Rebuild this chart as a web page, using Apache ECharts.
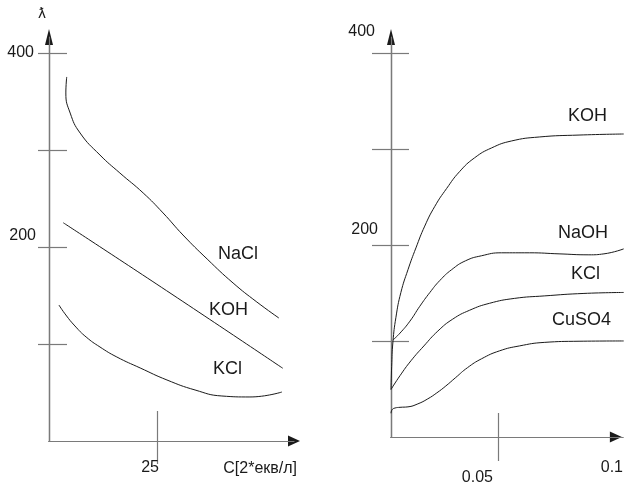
<!DOCTYPE html>
<html><head><meta charset="utf-8">
<script src="https://cdn.jsdelivr.net/npm/echarts@6/dist/echarts.min.js"></script>
<style>html,body{margin:0;padding:0;background:#fff}#c{width:626px;height:486px}</style>
</head><body><div id="c"></div>
<script>
// ---- data ----
const leftXTicks = [25];
const leftXLabels = [25];
const yTicks = [100, 200, 300, 400];
const yLabels = [200, 400];
const rightXTicks = [0.05];
const rightXLabels = [0.05, 0.1];

const leftNaCl = [[4.1,375.3],[3.9,358.8],[4.9,338.1],[7.2,317.5],[11.8,294.8],[16.4,276.3],[21.8,255.7],[26.4,235.1],[31.0,212.4],[36.6,187.6],[42.6,162.9],[48.1,143.3],[53.2,126.8]];
const leftKOH  = [[3.3,225],[27.2,155],[54.1,75]];
const leftKCl  = [[2.3,140.2],[3.9,129.9],[6.0,118.6],[8.6,107.2],[11.8,96.9],[15.7,86.6],[21.1,75.3],[27.3,62.9],[33.8,52.6],[40.0,46.4],[46.5,45.4],[53.9,50.5]];

const rightKOH   = [[0,49.5],[0.0003,73.2],[0.0009,99],[0.0023,124.7],[0.0046,150.5],[0.0079,174.2],[0.0116,196.9],[0.0157,219.6],[0.0204,240.2],[0.0259,258.8],[0.0319,276.3],[0.0389,290.7],[0.0468,301],[0.056,308.2],[0.069,312.4],[0.0875,314.4],[0.1083,315.5]];
const rightNaOH  = [[0.0009,101],[0.0042,108.2],[0.0088,120.6],[0.0134,136.1],[0.0181,150.5],[0.0227,162.9],[0.0282,174.2],[0.0347,183.5],[0.0421,188.7],[0.0514,191.8],[0.0644,191.8],[0.0782,190.7],[0.0921,189.7],[0.0991,190.7],[0.1083,195.9]];
const rightKCl   = [[0,49.5],[0.0042,63.9],[0.0093,79.4],[0.0153,94.8],[0.0218,110.3],[0.0287,122.7],[0.0366,132],[0.0458,139.2],[0.0574,144.3],[0.0713,146.9],[0.0898,149.5],[0.1083,150.5]];
const rightCuSO4 = [[0,24.7],[0.0005,28.4],[0.0019,30.2],[0.0042,30.9],[0.0079,31.4],[0.0125,34.5],[0.0171,39.7],[0.0213,45.9],[0.0255,53.1],[0.0301,61.9],[0.0356,72.2],[0.0421,81.4],[0.0505,89.7],[0.0597,94.8],[0.0713,98.5],[0.0875,99.7],[0.1083,100]];

const leftLabels = [['NaCl',218,245],['KOH',209,301],['KCl',213,360]];
const rightLabels = [['KOH',568,107],['NaOH',558,224],['KCl',571,265],['CuSO4',552,311]];

// ---- styling ----
const FONT = 'Liberation Sans, Arial, sans-serif';
const NARROW = 'Liberation Sans Narrow, Arial Narrow, sans-serif';
const AX = '#7a7a7a', DARK = '#1a1a1a';
const base = {fontFamily: FONT, fontSize: 16, color: DARK};

function yAxes(gridIndex, max, rich) {
  return [
    { gridIndex, type:'value', min:0, max, position:'left', splitLine:{show:false},
      axisLine:{show:true, onZero:false, lineStyle:{color:DARK, width:1.2}, symbol:['none','triangle'], symbolSize:[8,16]},
      axisTick:{show:true, inside:false, length: gridIndex===0?11:19, customValues:yTicks, lineStyle:{color:AX, width:1.2}},
      axisLabel:{show:true, margin:13, customValues:yLabels, formatter:v=>'{r'+v+'|'+v+'}', rich},
      name: gridIndex===0 ? 'ƛ' : '', nameLocation:'end', nameGap:16,
      nameTextStyle:{fontFamily:FONT, fontSize:15, color:DARK, padding:[0,14,0,0]} },
    { gridIndex, type:'value', min:0, max, position:'left', z:1, splitLine:{show:false},
      axisLine:{show:true, onZero:false, lineStyle:{color:AX, width:1.2}},
      axisTick:{show:true, inside:true, length:18, customValues:yTicks, lineStyle:{color:AX, width:1.2}},
      axisLabel:{show:false} }
  ];
}
function xAxes(gridIndex, max, o) {
  return [
    { gridIndex, type:'value', min:0, max, position:'bottom', splitLine:{show:false},
      axisLine:{show:true, onZero:false, lineStyle:{color:DARK, width:1.2}, symbol:['none','triangle'], symbolSize:[11,12], symbolOffset:[0,o.arrowOff]},
      axisTick:{show:true, inside:false, length:o.out, customValues:o.ticks, lineStyle:{color:AX, width:1.2}},
      axisLabel:{show:true, margin:19, customValues:o.labels, formatter:v=>'{'+o.key(v)+'|'+v+'}', rich:o.rich},
      name:o.name||'', nameLocation:'end', nameGap:3,
      nameTextStyle:{fontFamily:FONT, fontSize:16, color:DARK, align:'right', verticalAlign:'top', padding:[20,0,0,0]} },
    { gridIndex, type:'value', min:0, max, position:'bottom', z:1, splitLine:{show:false},
      axisLine:{show:true, onZero:false, lineStyle:{color:AX, width:1.2}},
      axisTick:{show:true, inside:true, length:o.inn, customValues:o.ticks, lineStyle:{color:AX, width:1.2}},
      axisLabel:{show:false} }
  ];
}

const line = (data, xi, yi) => ({
  type:'line', data, xAxisIndex:xi, yAxisIndex:yi, showSymbol:false, smooth:0.5,
  clip:false, lineStyle:{color:DARK, width:1}, silent:true
});

const chart = echarts.init(document.getElementById('c'), null, {renderer:'canvas'});
chart.setOption({
  backgroundColor:'#fff',
  animation:false,
  grid:[
    {left:49, right:332, top:37, bottom:45},
    {left:391, right:2, top:37, bottom:45}
  ],
  xAxis:[
    ...xAxes(0, 56.7, {arrowOff:0, out:23, inn:30, ticks:leftXTicks, labels:leftXLabels, key:v=>'a',
      rich:{a:{...base, padding:[0,14,0,0]}}, name:'C[2*екв/л]'}),
    ...xAxes(1, 0.1079, {arrowOff:-7, out:24, inn:24, ticks:rightXTicks, labels:rightXLabels, key:v=>v===0.05?'a':'b',
      rich:{a:{...base, padding:[14,42,0,0]}, b:{...base, padding:[4,0,0,12]}}})
  ],
  yAxis:[
    ...yAxes(0, 416.5, {r400:{...base, padding:[0,2,0,0]}, r200:{...base, padding:[0,0,22,0]}}),
    ...yAxes(1, 416.5, {r400:{...base, padding:[0,3,42,0]}, r200:{...base, padding:[0,0,30,0]}})
  ],
  series:[
    line(leftNaCl,0,0),
    line(leftKOH,0,0),
    line(leftKCl,0,0),
    line(rightKOH,2,2),
    line(rightNaOH,2,2),
    line(rightKCl,2,2),
    line(rightCuSO4,2,2)
  ],
  graphic: leftLabels.concat(rightLabels).map(([t,x,y]) => ({
    type:'text', left:x, top:y, silent:true,
    style:{text:t, fontFamily:NARROW, fontSize:18, fill:DARK}
  }))
});
</script></body></html>
